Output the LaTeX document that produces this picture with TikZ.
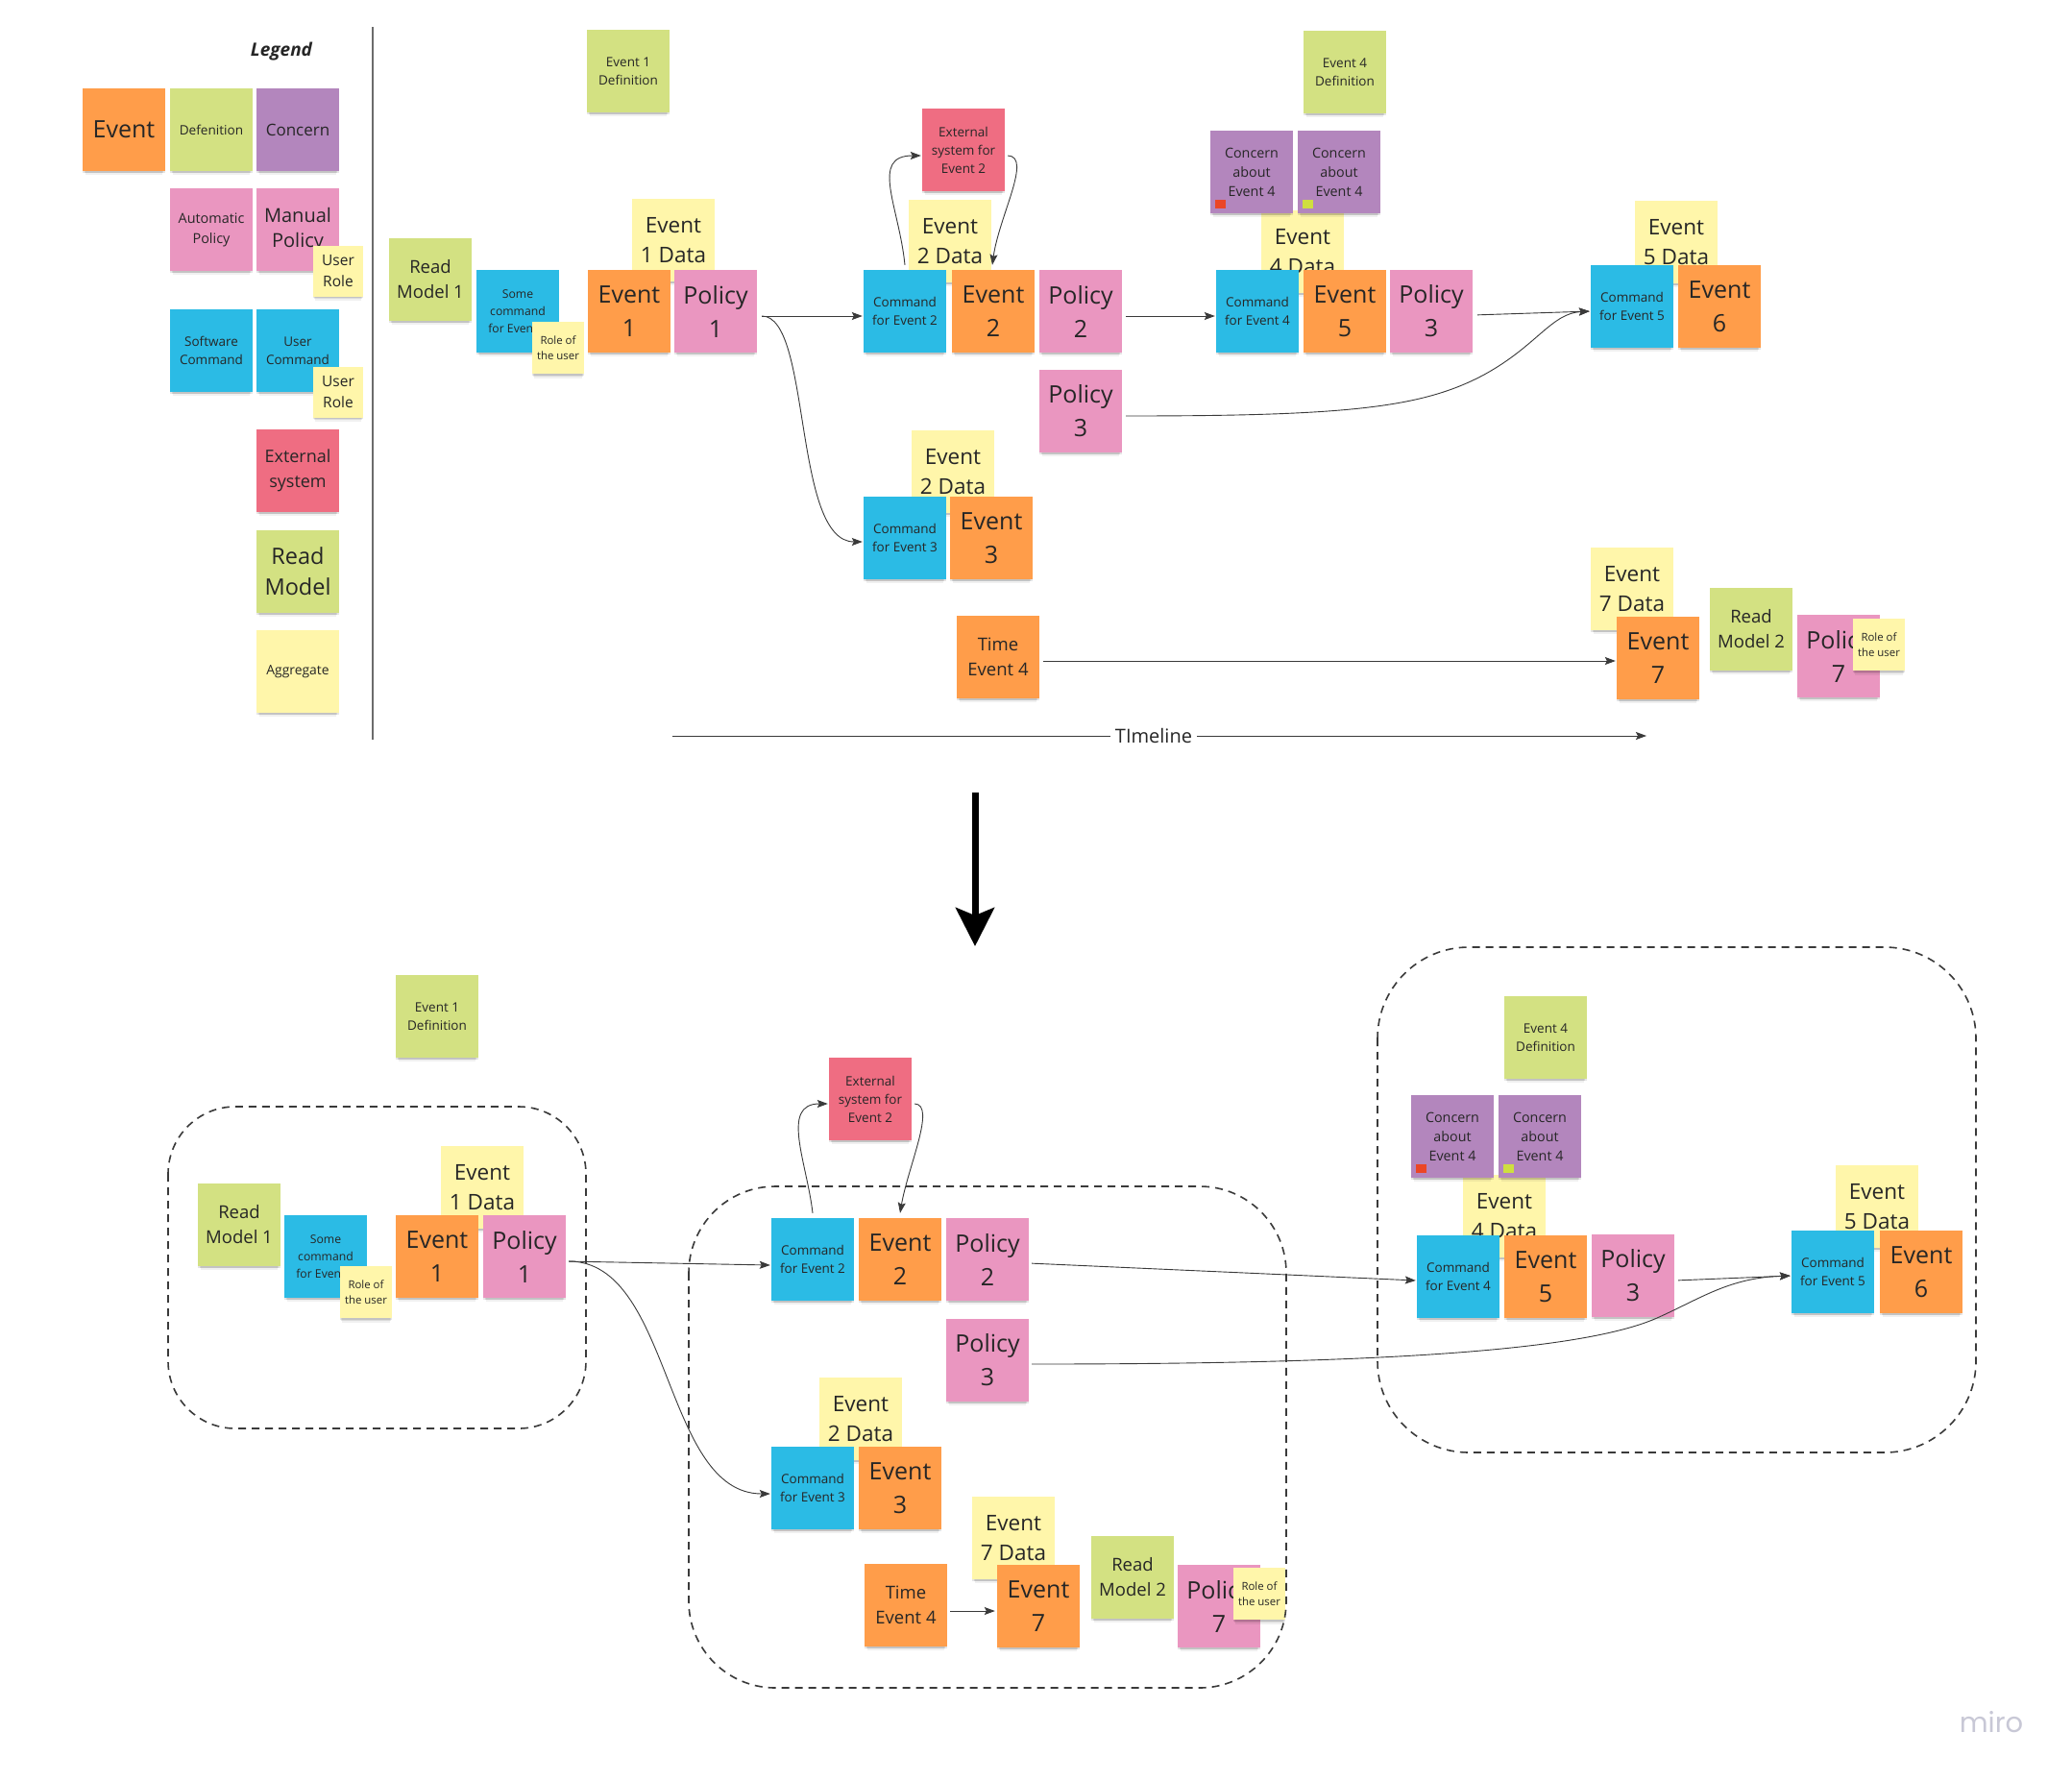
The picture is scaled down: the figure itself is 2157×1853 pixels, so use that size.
\documentclass[tikz,border=0pt]{standalone}
\usepackage{fontspec}
\setmainfont{Open Sans}
\newfontfamily\logofont{Poppins}
\usetikzlibrary{arrows.meta,shadows}
\definecolor{ink}{HTML}{262626}
\definecolor{linec}{HTML}{3A3A3A}
\definecolor{evc}{HTML}{FF9D4A}
\definecolor{defc}{HTML}{D3E182}
\definecolor{conc}{HTML}{B386BD}
\definecolor{polc}{HTML}{EA96C0}
\definecolor{cmdc}{HTML}{2BBBE5}
\definecolor{extc}{HTML}{EF6D82}
\definecolor{datc}{HTML}{FFF6AA}
\definecolor{sqred}{HTML}{EB4626}
\definecolor{sqgreen}{HTML}{CFDF3F}
\definecolor{logoc}{HTML}{C8C8D6}
\definecolor{sepc}{HTML}{6B6B6B}
\newcommand{\myfs}[2]{\fontsize{#1pt}{#2pt}\selectfont}
\begin{document}
\begin{tikzpicture}[x=1pt,y=-1pt,
  sticky/.style={rectangle, minimum width=86pt, minimum height=86pt, inner sep=0pt, align=center, text=ink,
    drop shadow={shadow xshift=0pt, shadow yshift=-7pt, shadow scale=0.93, opacity=.06, fill=black},
    drop shadow={shadow xshift=0pt, shadow yshift=-4pt, shadow scale=0.96, opacity=.09, fill=black},
    drop shadow={shadow xshift=0pt, shadow yshift=-2pt, shadow scale=0.99, opacity=.10, fill=black}},
  smallsticky/.style={sticky, minimum width=54pt, minimum height=54pt, fill=datc},
  ev/.style={sticky, fill=evc},
  pol/.style={sticky, fill=polc},
  cmd/.style={sticky, fill=cmdc},
  ext/.style={sticky, fill=extc},
  def/.style={sticky, fill=defc},
  con/.style={sticky, fill=conc},
  dat/.style={sticky, fill=datc},
  fE/.style={font=\myfs{25}{35}},
  fD/.style={font=\myfs{22.5}{31}},
  fM/.style={font=\myfs{18.5}{26}},
  fS/.style={font=\myfs{13.5}{19}},
  fT/.style={font=\myfs{11.4}{16}},
  arr/.style={draw=linec, line width=0.9pt, -{Stealth[length=11pt,width=8pt,inset=2pt]}},
  boxd/.style={draw=linec, line width=1.6pt, dash pattern=on 8pt off 6pt}
]
\fill[white] (0,0) rectangle (2157,1853);
\useasboundingbox (0,0) rectangle (2157,1853);

% ---------------- Legend ----------------
\node[font=\myfs{19}{24}\bfseries\itshape, text=ink] (legt) at (293,54) {Legend};
\node[ev, fE] (Lev) at (129,135) {Event};
\node[def, font=\myfs{13.6}{19}] (Ldef) at (220,135) {Defenition};
\node[con, font=\myfs{17}{24}] (Lcon) at (310,135) {Concern};
\node[pol, font=\myfs{14.4}{21}] (Lap) at (220,239) {Automatic\\Policy};
\node[pol, font=\myfs{20}{26}] (Lmp) at (310,239) {Manual\\Policy};
\node[smallsticky, minimum width=52pt, minimum height=53pt, font=\myfs{15.5}{21.5}] (Lur1) at (352,282) {User\\Role};
\node[cmd, fS] (Lsc) at (220,365) {Software\\Command};
\node[cmd, fS] (Luc) at (310,365) {User\\Command};
\node[smallsticky, minimum width=52pt, minimum height=53pt, font=\myfs{15.5}{21.5}] (Lur2) at (352,408) {User\\Role};
\node[ext, font=\myfs{18}{26}] (Lext) at (310,490) {External\\system};
\node[def, font=\myfs{23.5}{32}] (Lrm) at (310,595) {Read\\Model};
\node[dat, font=\myfs{13.9}{19}] (Lagg) at (310,699) {Aggregate};
\coordinate (sepT) at (388,28);
\coordinate (sepB) at (388,770);
\draw[sepc, line width=2pt] (sepT) -- (sepB);

% ---------------- Top timeline ----------------
\node[def, fS] (Tdef1) at (654,74) {Event 1\\Definition};
\node[def, fM] (Trm1) at (448,291) {Read\\Model 1};
\node[cmd, font=\myfs{12.2}{18}] (Tcmd1) at (539,324) {Some\\command\\for Event 1};
\node[smallsticky, fT] (Trole1) at (581,362) {Role of\\the user};
\node[dat, fD] (Td1) at (701,250) {Event\\1 Data};
\node[ev, fE] (Te1) at (655,324) {Event\\1};
\node[pol, fE] (Tp1) at (745,324) {Policy\\1};

\node[ext, fS] (Text2) at (1003,156) {External\\system for\\Event 2};
\node[dat, fD] (Td2) at (989,251) {Event\\2 Data};
\node[cmd, fS] (Tc2) at (942,324) {Command\\for Event 2};
\node[ev, fE] (Te2) at (1034,324) {Event\\2};
\node[pol, fE] (Tp2) at (1125,324) {Policy\\2};
\node[pol, fE] (Tp3b) at (1125,428) {Policy\\3};

\node[dat, fD] (Td2b) at (992,491) {Event\\2 Data};
\node[cmd, fS] (Tc3) at (942,560) {Command\\for Event 3};
\node[ev, fE] (Te3) at (1032,560) {Event\\3};
\node[ev, fM] (Tte4) at (1039,684) {Time\\Event 4};

\node[def, fS] (Tdef4) at (1400,75) {Event 4\\Definition};
\node[dat, fD] (Td4) at (1356,262) {Event\\4 Data};
\node[con, font=\myfs{14.3}{20}] (Tcon1) at (1303,179) {Concern\\about\\Event 4};
\node[con, font=\myfs{14.3}{20}] (Tcon2) at (1394,179) {Concern\\about\\Event 4};
\fill[sqred] ([xshift=5pt,yshift=5pt]Tcon1.south west) rectangle ++(11pt,9pt);
\fill[sqgreen] ([xshift=5pt,yshift=5pt]Tcon2.south west) rectangle ++(11pt,9pt);
\node[cmd, fS] (Tc4) at (1309,324) {Command\\for Event 4};
\node[ev, fE] (Te5) at (1400,324) {Event\\5};
\node[pol, fE] (Tp3) at (1490,324) {Policy\\3};

\node[dat, fD] (Td5) at (1745,252) {Event\\5 Data};
\node[cmd, fS] (Tc5) at (1699,319) {Command\\for Event 5};
\node[ev, fE] (Te6) at (1790,319) {Event\\6};

\node[dat, fD] (Td7) at (1699,613) {Event\\7 Data};
\node[ev, fE] (Te7) at (1726,685) {Event\\7};
\node[def, fM] (Trm2) at (1823,655) {Read\\Model 2};
\node[pol, fE] (Tp7) at (1914,683) {Policy\\7};
\node[smallsticky, fT] (Trole7) at (1956,671) {Role of\\the user};

% timeline
\coordinate (tlS) at (700,766);
\coordinate (tlE) at (1714,766);
\node[font=\myfs{20}{26}, text=ink, fill=white, inner sep=5pt] (tlab) at (1201,766) {TImeline};
\draw[draw=linec, line width=0.9pt] (tlS) -- (tlab.west);
\draw[arr] (tlab.east) -- (tlE);

% top arrows
\draw[arr, shorten <=5pt, shorten >=1pt] ([yshift=-5pt]Tp1.east) -- ([yshift=-5pt]Tc2.west);
\draw[arr, shorten <=5pt, shorten >=1pt] ([yshift=-5pt]Tp1.east) .. controls (845,329) and (825,564) .. ([yshift=-4pt]Tc3.west);
\draw[arr] ([yshift=5pt]Tc2.north) .. controls (936,215) and (905,162) .. ([xshift=-1pt,yshift=-6pt]Text2.west);
\draw[arr] ([xshift=3pt,yshift=-6pt]Text2.east) .. controls (1075,163) and (1040,225) .. ([xshift=-1pt,yshift=5pt]Te2.north);
\draw[arr, shorten <=4pt, shorten >=1pt] ([yshift=-5pt]Tp2.east) -- ([yshift=-5pt]Tc4.west);
\draw[arr, shorten <=5pt, shorten >=1pt] ([yshift=-4pt]Tp3.east) -- ([yshift=-5pt]Tc5.west);
\draw[arr, shorten <=4pt, shorten >=1pt] ([yshift=-5pt]Tp3b.east) .. controls (1400,433) and (1480,425) .. (1545,390) .. controls (1600,360) and (1615,326) .. ([yshift=-5pt]Tc5.west);
\draw[arr, shorten <=4pt, shorten >=1pt] ([yshift=-4pt]Tte4.east) -- ([yshift=-3pt]Te7.west);

% big arrow
\coordinate (bigA) at (1015,825);
\coordinate (bigB) at (1015,985);
\draw[draw=black, line width=7pt, -{Stealth[length=40pt,width=40pt,inset=8pt]}] (bigA) -- (bigB);

% ---------------- Bottom ----------------
\node[def, fS] (Bdef1) at (455,1058) {Event 1\\Definition};
\node[def, fM] (Brm1) at (249,1275) {Read\\Model 1};
\node[cmd, font=\myfs{12.2}{18}] (Bcmd1) at (339,1308) {Some\\command\\for Event 1};
\node[smallsticky, fT] (Brole1) at (381,1345) {Role of\\the user};
\node[dat, fD] (Bd1) at (502,1236) {Event\\1 Data};
\node[ev, fE] (Be1) at (455,1308) {Event\\1};
\node[pol, fE] (Bp1) at (546,1308) {Policy\\1};

\node[ext, fS] (Bext2) at (906,1144) {External\\system for\\Event 2};
\node[cmd, fS] (Bc2) at (846,1311) {Command\\for Event 2};
\node[ev, fE] (Be2) at (937,1311) {Event\\2};
\node[pol, fE] (Bp2) at (1028,1311) {Policy\\2};
\node[pol, fE] (Bp3b) at (1028,1416) {Policy\\3};
\node[dat, fD] (Bd2b) at (896,1477) {Event\\2 Data};
\node[cmd, fS] (Bc3) at (846,1549) {Command\\for Event 3};
\node[ev, fE] (Be3) at (937,1549) {Event\\3};
\node[ev, fM] (Bte4) at (943,1671) {Time\\Event 4};
\node[dat, fD] (Bd7) at (1055,1601) {Event\\7 Data};
\node[ev, fE] (Be7) at (1081,1672) {Event\\7};
\node[def, fM] (Brm2) at (1179,1642) {Read\\Model 2};
\node[pol, fE] (Bp7) at (1269,1672) {Policy\\7};
\node[smallsticky, fT] (Brole7) at (1311,1659) {Role of\\the user};

\node[def, fS] (Bdef4) at (1609,1080) {Event 4\\Definition};
\node[dat, fD] (Bd4) at (1566,1266) {Event\\4 Data};
\node[con, font=\myfs{14.3}{20}] (Bcon1) at (1512,1183) {Concern\\about\\Event 4};
\node[con, font=\myfs{14.3}{20}] (Bcon2) at (1603,1183) {Concern\\about\\Event 4};
\fill[sqred] ([xshift=5pt,yshift=5pt]Bcon1.south west) rectangle ++(11pt,9pt);
\fill[sqgreen] ([xshift=5pt,yshift=5pt]Bcon2.south west) rectangle ++(11pt,9pt);
\node[cmd, fS] (Bc4) at (1518,1329) {Command\\for Event 4};
\node[ev, fE] (Be5) at (1609,1329) {Event\\5};
\node[pol, fE] (Bp3) at (1700,1328) {Policy\\3};
\node[dat, fD] (Bd5) at (1954,1256) {Event\\5 Data};
\node[cmd, fS] (Bc5) at (1908,1324) {Command\\for Event 5};
\node[ev, fE] (Be6) at (2000,1324) {Event\\6};

% dashed groups
\draw[boxd, rounded corners=70pt] (175,1152) rectangle (610,1487);
\draw[boxd, rounded corners=90pt] (717,1235) rectangle (1339,1757);
\draw[boxd, rounded corners=95pt] (1434,986) rectangle (2057,1512);

% bottom arrows
\draw[arr, shorten <=3pt, shorten >=1pt] ([yshift=-5pt]Bp1.east) -- ([yshift=-6pt]Bc2.west);
\draw[arr, shorten <=3pt, shorten >=1pt] ([yshift=-5pt]Bp1.east) .. controls (700,1313) and (690,1555) .. ([yshift=-6pt]Bc3.west);
\draw[arr] ([yshift=5pt]Bc2.north) .. controls (840,1210) and (812,1149) .. ([xshift=-1pt,yshift=-5pt]Bext2.west);
\draw[arr] ([xshift=3pt,yshift=-5pt]Bext2.east) .. controls (975,1150) and (945,1215) .. ([yshift=5pt]Be2.north);
\draw[arr, shorten <=3pt, shorten >=1pt] ([yshift=-4pt]Bp2.east) -- ([yshift=-4pt]Bc4.west);
\draw[arr, shorten <=4pt, shorten >=1pt] ([yshift=-5pt]Bp3.east) -- ([yshift=-4pt]Bc5.west);
\draw[arr, shorten <=3pt, shorten >=1pt] ([yshift=-4pt]Bp3b.east) .. controls (1450,1420) and (1650,1405) .. (1725,1372) .. controls (1770,1352) and (1800,1330) .. ([yshift=-4pt]Bc5.west);
\draw[arr, shorten <=3pt, shorten >=2pt] ([yshift=-6pt]Bte4.east) -- ([yshift=-5pt]Be7.west);

% logo
\node[text=logoc, font=\logofont\myfs{29}{32}] (logo) at (2073,1793) {miro};
\end{tikzpicture}
\end{document}
